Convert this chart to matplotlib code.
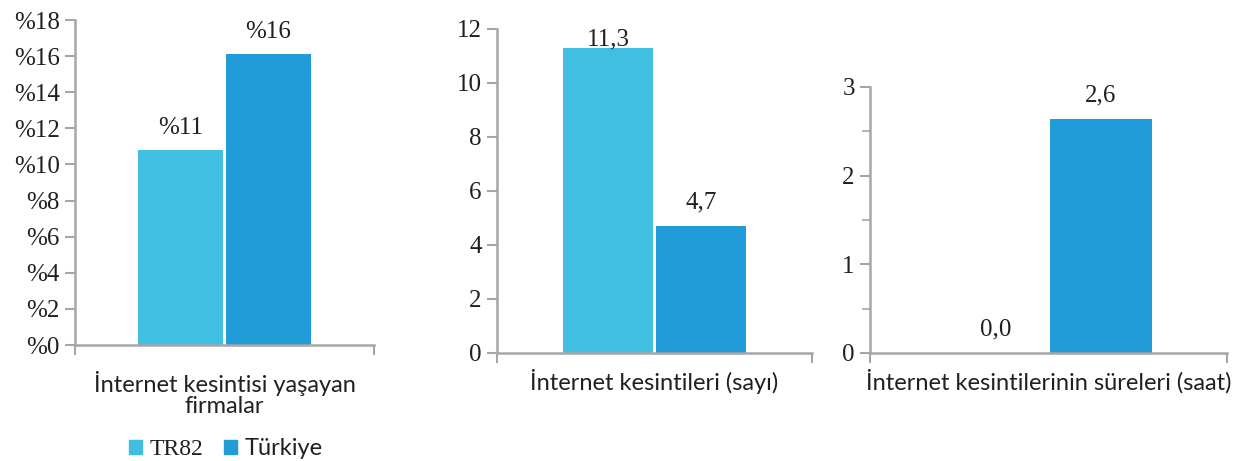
import matplotlib.pyplot as plt
from matplotlib.patches import Patch
from matplotlib.ticker import MultipleLocator

series = ["TR82", "Türkiye"]
colors = ["#41bfe2", "#219cd8"]

# one panel per measure
categories = ["İnternet kesintisi yaşayan\nfirmalar",
              "İnternet kesintileri (sayı)",
              "İnternet kesintilerinin süreleri (saat)"]
tr82 = [10.8, 11.3, 0.0]
turkiye = [16.1, 4.7, 2.64]
labels_tr82 = ["%11", "11,3", "0,0"]
labels_tr = ["%16", "4,7", "2,6"]

serif = "Liberation Serif"
sans = "Lato"
axis_grey = "#a6a6a6"
text_col = "#231f20"

fig = plt.figure(figsize=(12.47, 4.61), dpi=100)

boxes = [[0.0601, 0.2516, 0.2398, 0.7050],
         [0.3986, 0.2343, 0.2526, 0.7028],
         [0.6977, 0.2343, 0.2863, 0.5770]]
ylims = [18, 12, 3]
majors = [2, 2, 1]
pads = [(8, 8), (-2, 9), (9, 9)]
labelpads = [8, 1, 1]

w = 0.285
off = 0.147

for i in range(3):
    ax = fig.add_axes(boxes[i])
    b1 = ax.bar([-off], [tr82[i]], width=w, color=colors[0])
    b2 = ax.bar([off], [turkiye[i]], width=w, color=colors[1])
    ax.bar_label(b1, labels=[labels_tr82[i]], padding=pads[i][0],
                 fontfamily=serif, fontsize=18, color=text_col)
    ax.bar_label(b2, labels=[labels_tr[i]], padding=pads[i][1],
                 fontfamily=serif, fontsize=18, color=text_col)

    ax.set_xlim(-0.5, 0.5)
    ax.set_ylim(0, ylims[i])
    ax.yaxis.set_major_locator(MultipleLocator(majors[i]))
    if i == 2:
        ax.yaxis.set_minor_locator(MultipleLocator(0.5))
        ax.tick_params(axis="y", which="minor", length=6, width=1.2,
                       color=axis_grey)
    if i == 0:
        ax.set_yticklabels(["%" + str(int(v)) for v in ax.get_yticks()])

    ax.set_xticks([-0.5, 0.5])
    ax.set_xticklabels(["", ""])
    ax.tick_params(axis="x", length=7, width=1.5, color=axis_grey)
    ax.tick_params(axis="y", which="major", length=7, width=1.5,
                   color=axis_grey, labelsize=18, labelcolor=text_col, pad=4)
    for t in ax.get_yticklabels():
        t.set_fontfamily(serif)

    for s in ["top", "right"]:
        ax.spines[s].set_visible(False)
    for s in ["left", "bottom"]:
        ax.spines[s].set_color(axis_grey)
        ax.spines[s].set_linewidth(1.8)

    ax.set_xlabel(categories[i], fontfamily=sans, fontsize=17,
                  color=text_col, labelpad=labelpads[i], linespacing=1.0)

handles = [Patch(color=colors[0]), Patch(color=colors[1])]
leg = fig.legend(handles, series, loc="center", bbox_to_anchor=(0.181, 0.026),
                 ncol=2, frameon=False, fontsize=17, handlelength=0.55,
                 handleheight=0.55, handletextpad=0.3, columnspacing=0.9)
leg.get_texts()[0].set_fontfamily(serif)
leg.get_texts()[1].set_fontfamily(sans)
for t in leg.get_texts():
    t.set_color(text_col)

fig.savefig("out.png", dpi=100)
